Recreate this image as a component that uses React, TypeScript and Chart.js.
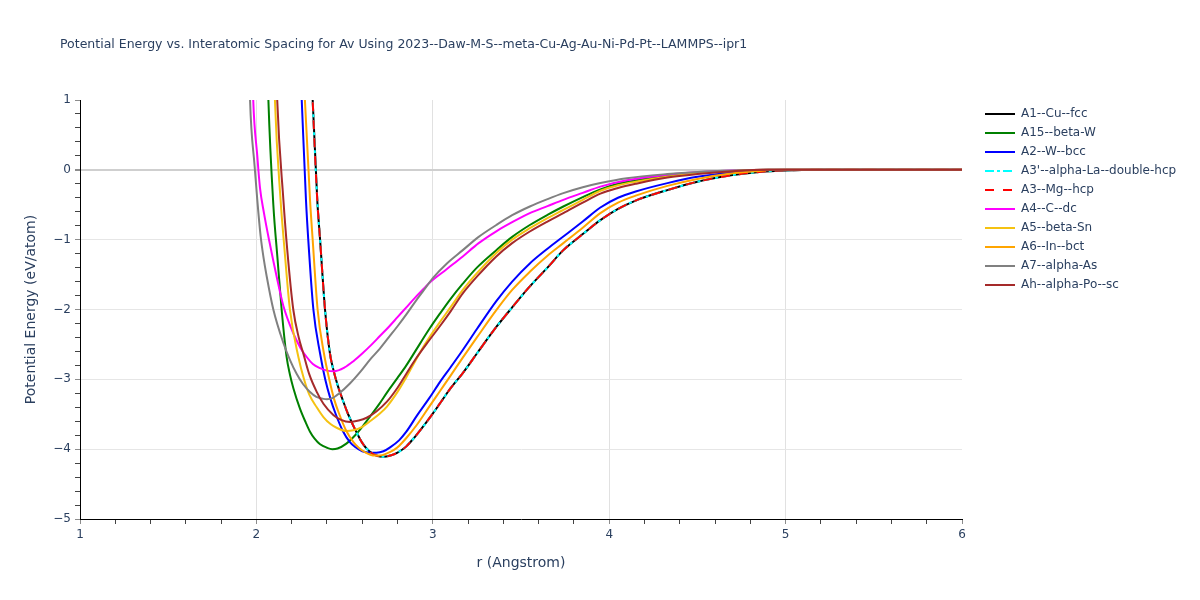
import React, { useEffect, useRef } from 'react';
import { Chart, registerables } from 'chart.js';

Chart.register(...registerables);

const chartTitle =
  'Potential Energy vs. Interatomic Spacing for Av Using 2023--Daw-M-S--meta-Cu-Ag-Au-Ni-Pd-Pt--LAMMPS--ipr1';

// r (Angstrom) and energy (eV/atom), one pair per structure
const rA1 = [2.305, 2.319, 2.345, 2.361, 2.389, 2.417, 2.44, 2.46, 2.49, 2.52, 2.56, 2.6, 2.64, 2.68, 2.72, 2.76, 2.8, 2.85, 2.9, 2.95, 3.0, 3.05, 3.1, 3.17, 3.25, 3.36, 3.45, 3.55, 3.65, 3.74, 3.85, 3.95, 4.05, 4.15, 4.33, 4.5, 4.7, 4.85, 5.0, 5.2, 6.0];
const eA1 = [2.0, 1.0, -0.43, -1.0, -2.0, -2.63, -2.9, -3.08, -3.3, -3.5, -3.72, -3.91, -4.03, -4.09, -4.11, -4.09, -4.05, -3.96, -3.82, -3.66, -3.49, -3.31, -3.13, -2.91, -2.63, -2.25, -1.97, -1.67, -1.4, -1.15, -0.92, -0.72, -0.56, -0.44, -0.29, -0.17, -0.075, -0.03, -0.008, 0, 0];

// A3' and A3 lie exactly on top of A1
const rA3p = rA1;
const eA3p = eA1;
const rA3 = rA1;
const eA3 = eA1;

const rA15 = [2.058, 2.068, 2.096, 2.119, 2.143, 2.171, 2.19, 2.21, 2.247, 2.28, 2.304, 2.33, 2.361, 2.4, 2.43, 2.46, 2.51, 2.56, 2.6, 2.645, 2.7, 2.74, 2.8, 2.85, 2.9, 2.98, 3.04, 3.1, 3.17, 3.25, 3.36, 3.45, 3.55, 3.65, 3.74, 3.85, 3.95, 4.05, 4.15, 4.33, 4.5, 4.7, 4.9, 6.0];
const eA15 = [2.0, 1.0, -0.5, -1.25, -2.0, -2.675, -2.93, -3.13, -3.42, -3.62, -3.75, -3.85, -3.93, -3.98, -4.0, -3.99, -3.92, -3.8, -3.68, -3.53, -3.34, -3.19, -2.98, -2.8, -2.6, -2.28, -2.06, -1.85, -1.63, -1.4, -1.15, -0.96, -0.79, -0.645, -0.525, -0.39, -0.28, -0.2, -0.15, -0.085, -0.045, -0.015, 0, 0];

const rA2 = [2.24, 2.257, 2.281, 2.294, 2.323, 2.361, 2.39, 2.42, 2.45, 2.49, 2.53, 2.56, 2.6, 2.644, 2.68, 2.72, 2.76, 2.81, 2.85, 2.91, 2.98, 3.04, 3.1, 3.17, 3.25, 3.36, 3.45, 3.55, 3.65, 3.74, 3.85, 3.95, 4.05, 4.15, 4.33, 4.5, 4.7, 4.85, 5.0, 6.0];
const eA2 = [2.0, 1.0, -0.43, -1.0, -2.0, -2.63, -3.0, -3.28, -3.5, -3.74, -3.9, -3.97, -4.03, -4.05, -4.05, -4.03, -3.97, -3.87, -3.75, -3.52, -3.27, -3.04, -2.83, -2.58, -2.28, -1.88, -1.6, -1.34, -1.13, -0.955, -0.74, -0.54, -0.4, -0.31, -0.19, -0.1, -0.038, -0.012, 0, 0];

const rA4 = [1.972, 1.982, 2.005, 2.02, 2.043, 2.073, 2.115, 2.153, 2.209, 2.25, 2.285, 2.32, 2.361, 2.4, 2.44, 2.5, 2.55, 2.6, 2.65, 2.7, 2.75, 2.8, 2.85, 2.9, 2.95, 2.98, 3.08, 3.17, 3.26, 3.36, 3.45, 3.55, 3.65, 3.74, 3.85, 3.95, 4.1, 4.33, 4.5, 4.7, 4.9, 6.0];
const eA4 = [2.0, 1.0, 0.2, -0.25, -0.62, -1.02, -1.53, -1.95, -2.34, -2.55, -2.68, -2.78, -2.84, -2.875, -2.885, -2.83, -2.74, -2.63, -2.51, -2.38, -2.25, -2.11, -1.97, -1.83, -1.7, -1.62, -1.42, -1.24, -1.05, -0.88, -0.75, -0.62, -0.52, -0.43, -0.33, -0.24, -0.15, -0.07, -0.035, -0.01, 0, 0];

const rA5 = [2.095, 2.105, 2.137, 2.158, 2.19, 2.238, 2.27, 2.3, 2.342, 2.38, 2.42, 2.46, 2.51, 2.55, 2.6, 2.65, 2.7, 2.74, 2.8, 2.85, 2.9, 2.95, 2.98, 3.04, 3.1, 3.17, 3.25, 3.36, 3.45, 3.55, 3.65, 3.74, 3.85, 3.95, 4.05, 4.15, 4.33, 4.5, 4.7, 4.9, 6.0];
const eA5 = [2.0, 1.0, -0.43, -1.1, -2.0, -2.68, -3.0, -3.22, -3.4, -3.54, -3.64, -3.7, -3.74, -3.73, -3.68, -3.59, -3.49, -3.39, -3.18, -2.97, -2.74, -2.52, -2.4, -2.18, -1.97, -1.72, -1.48, -1.19, -1.0, -0.836, -0.69, -0.573, -0.43, -0.3, -0.22, -0.17, -0.1, -0.05, -0.015, 0, 0];

const rA6 = [2.26, 2.275, 2.304, 2.319, 2.347, 2.383, 2.413, 2.44, 2.47, 2.51, 2.55, 2.58, 2.62, 2.66, 2.7, 2.74, 2.78, 2.81, 2.85, 2.91, 2.98, 3.04, 3.1, 3.17, 3.25, 3.36, 3.45, 3.55, 3.65, 3.74, 3.85, 3.95, 4.05, 4.15, 4.33, 4.5, 4.7, 4.85, 5.0, 6.0];
const eA6 = [2.0, 1.0, -0.43, -1.0, -2.0, -2.63, -3.0, -3.28, -3.5, -3.74, -3.9, -3.98, -4.05, -4.09, -4.09, -4.06, -4.01, -3.95, -3.84, -3.65, -3.39, -3.17, -2.95, -2.69, -2.4, -2.01, -1.72, -1.46, -1.23, -1.05, -0.83, -0.62, -0.47, -0.37, -0.23, -0.13, -0.05, -0.015, 0, 0];

const rA7 = [1.955, 1.964, 1.99, 2.005, 2.024, 2.04, 2.058, 2.096, 2.153, 2.19, 2.228, 2.265, 2.304, 2.34, 2.38, 2.4, 2.43, 2.47, 2.53, 2.59, 2.65, 2.7, 2.75, 2.8, 2.85, 2.9, 2.95, 3.0, 3.08, 3.17, 3.26, 3.36, 3.45, 3.55, 3.65, 3.74, 3.85, 3.95, 4.1, 4.33, 4.5, 4.7, 4.9, 6.0];
const eA7 = [2.0, 1.0, 0.05, -0.43, -0.95, -1.25, -1.52, -2.0, -2.48, -2.72, -2.92, -3.07, -3.18, -3.25, -3.28, -3.285, -3.27, -3.2, -3.06, -2.89, -2.7, -2.56, -2.4, -2.24, -2.07, -1.89, -1.72, -1.55, -1.34, -1.15, -0.96, -0.79, -0.65, -0.525, -0.42, -0.334, -0.25, -0.19, -0.12, -0.06, -0.03, -0.01, 0, 0];

const rAh = [2.107, 2.118, 2.153, 2.175, 2.209, 2.24, 2.266, 2.3, 2.342, 2.38, 2.436, 2.48, 2.53, 2.58, 2.625, 2.68, 2.74, 2.8, 2.85, 2.9, 2.98, 3.04, 3.1, 3.17, 3.25, 3.36, 3.45, 3.55, 3.65, 3.74, 3.85, 3.95, 4.05, 4.15, 4.33, 4.5, 4.7, 4.9, 6.0];
const eAh = [2.0, 1.0, -0.43, -1.15, -2.0, -2.4, -2.63, -2.93, -3.18, -3.35, -3.51, -3.58, -3.61, -3.59, -3.55, -3.46, -3.32, -3.12, -2.92, -2.72, -2.44, -2.24, -2.03, -1.77, -1.53, -1.24, -1.05, -0.883, -0.74, -0.621, -0.47, -0.34, -0.26, -0.2, -0.11, -0.06, -0.02, 0, 0];

const seriesNames = [
  'A1--Cu--fcc',
  'A15--beta-W',
  'A2--W--bcc',
  "A3'--alpha-La--double-hcp",
  'A3--Mg--hcp',
  'A4--C--dc',
  'A5--beta-Sn',
  'A6--In--bct',
  'A7--alpha-As',
  'Ah--alpha-Po--sc',
];
const seriesR = [rA1, rA15, rA2, rA3p, rA3, rA4, rA5, rA6, rA7, rAh];
const seriesE = [eA1, eA15, eA2, eA3p, eA3, eA4, eA5, eA6, eA7, eAh];
const seriesColors = ['#000000', '#008000', '#0000ff', '#00ffff', '#ff0000', '#ff00ff', '#f5c211', '#ffa500', '#808080', '#a52a2a'];
const seriesDash: number[][] = [[], [], [], [9, 3, 3, 3], [9, 9], [], [], [], [], []];

const FONT = '"DejaVu Sans", verdana, arial, sans-serif';
const TEXT = '#2a3f5f';

const isWhole = (v: number) => Math.abs(v - Math.round(v)) < 1e-6;
const fmt = (v: number) => {
  const n = Math.round(v);
  return n < 0 ? '\u2212' + Math.abs(n) : String(n);
};

const titleAndLegend = {
  id: 'titleAndLegend',
  afterDraw(chart: Chart) {
    const ctx = chart.ctx;
    ctx.save();
    ctx.fillStyle = TEXT;
    ctx.font = `12.5px ${FONT}`;
    ctx.textBaseline = 'middle';
    ctx.textAlign = 'left';
    ctx.fillText(chartTitle, 60, 45);

    ctx.font = `12px ${FONT}`;
    seriesNames.forEach((name, i) => {
      const y = 114 + i * 19;
      ctx.beginPath();
      ctx.strokeStyle = seriesColors[i];
      ctx.lineWidth = 2;
      ctx.setLineDash(seriesDash[i]);
      ctx.moveTo(985, y);
      ctx.lineTo(1015, y);
      ctx.stroke();
      ctx.setLineDash([]);
      ctx.fillStyle = TEXT;
      ctx.fillText(name, 1021, y);
    });
    ctx.restore();
  },
};

const App: React.FC = () => {
  const canvasRef = useRef<HTMLCanvasElement>(null);

  useEffect(() => {
    if (!canvasRef.current) return;

    const datasets = seriesNames.map((name, i) => ({
      label: name,
      data: seriesR[i].map((r, j) => ({ x: r, y: seriesE[i][j] })),
      borderColor: seriesColors[i],
      backgroundColor: seriesColors[i],
      borderWidth: 2,
      borderDash: seriesDash[i],
      pointRadius: 0,
      fill: false,
      cubicInterpolationMode: 'monotone' as const,
      clip: 0,
      order: seriesNames.length - i,
    }));

    const chart = new Chart(canvasRef.current, {
      type: 'line',
      data: { datasets },
      options: {
        animation: false,
        responsive: false,
        layout: { padding: { left: 0, top: 100, right: 238, bottom: 0 } },
        plugins: {
          legend: { display: false },
          title: { display: false },
          tooltip: { enabled: false },
        },
        scales: {
          x: {
            type: 'linear',
            min: 1,
            max: 6,
            afterFit: (scale: any) => {
              scale.height = 81;
            },
            border: { display: true, color: '#000000', width: 1 },
            grid: {
              color: (c: any) => {
                const v = c.tick.value;
                return isWhole(v) && v > 1.5 && v < 5.5 ? '#e1e1e1' : 'rgba(0,0,0,0)';
              },
              tickColor: (c: any) => (isWhole(c.tick.value) ? '#8c8c8c' : '#444444'),
              tickLength: 5,
              drawTicks: true,
            },
            ticks: {
              stepSize: 0.2,
              autoSkip: false,
              maxRotation: 0,
              padding: 4,
              color: TEXT,
              font: { family: FONT, size: 12 },
              callback: (value: any) => (isWhole(Number(value)) ? fmt(Number(value)) : ''),
            },
            title: {
              display: true,
              text: 'r (Angstrom)',
              color: TEXT,
              font: { family: FONT, size: 14 },
              padding: { top: 0, bottom: 28 },
            },
          },
          y: {
            type: 'linear',
            min: -5,
            max: 1,
            afterFit: (scale: any) => {
              scale.width = 80;
            },
            border: { display: true, color: '#000000', width: 1 },
            grid: {
              color: (c: any) => {
                const v = c.tick.value;
                if (!isWhole(v) || v > 0.5 || v < -4.5) return 'rgba(0,0,0,0)';
                return Math.abs(v) < 1e-6 ? '#cfcfcf' : '#e6e6e6';
              },
              lineWidth: (c: any) => (Math.abs(c.tick.value) < 1e-6 ? 2 : 1),
              tickColor: (c: any) => (isWhole(c.tick.value) ? '#8c8c8c' : '#444444'),
              tickLength: 5,
              drawTicks: true,
            },
            ticks: {
              stepSize: 0.2,
              autoSkip: false,
              padding: 4,
              color: TEXT,
              font: { family: FONT, size: 12 },
              callback: (value: any) => (isWhole(Number(value)) ? fmt(Number(value)) : ''),
            },
            title: {
              display: true,
              text: 'Potential Energy (eV/atom)',
              color: TEXT,
              font: { family: FONT, size: 14 },
              padding: { top: 23, bottom: 0 },
            },
          },
        },
      },
      plugins: [titleAndLegend],
    });

    return () => {
      chart.destroy();
    };
  }, []);

  return (
    <div style={{ position: 'absolute', left: 0, top: 0, width: 1200, height: 600, background: '#ffffff' }}>
      <canvas ref={canvasRef} width={1200} height={600} style={{ display: 'block', width: 1200, height: 600 }} />
    </div>
  );
};

export default App;
